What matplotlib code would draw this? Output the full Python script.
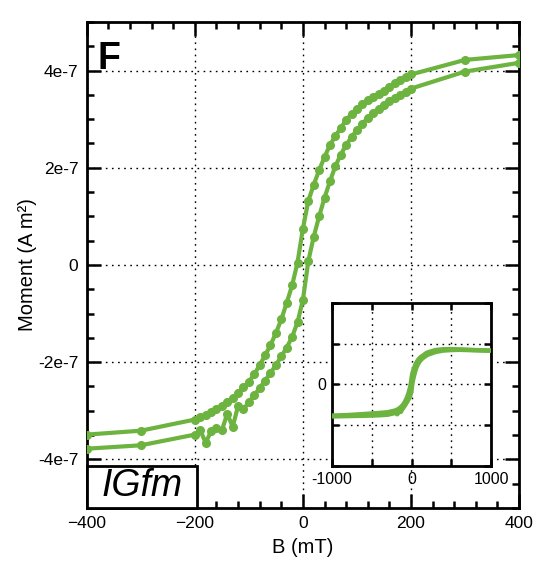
import matplotlib
matplotlib.use("Agg")
import matplotlib.pyplot as plt
from matplotlib.ticker import MultipleLocator, FixedLocator
from matplotlib.patches import Rectangle

plt.rcParams['font.family'] = ['Liberation Sans', 'DejaVu Sans']

# ---- data (moment in units of 1e-7 A m^2, field in mT) ----
desc_B = [1000, 800, 600, 500, 400, 300, 200, 190, 180, 170, 160, 150, 140, 130, 120, 110,
          100, 90, 80, 70, 60, 50, 40, 30, 20, 10, 0, -10, -20, -30, -40, -50, -60,
          -70, -80, -90, -100, -110, -120, -130, -140, -150, -160, -170, -180, -190,
          -200, -300, -400, -500, -600, -800, -1000]
desc_M = [4.15, 4.22, 4.30, 4.34, 4.32, 4.22, 3.92, 3.87, 3.81, 3.74, 3.67, 3.59, 3.52, 3.46,
          3.40, 3.31, 3.22, 3.11, 2.98, 2.82, 2.65, 2.47, 2.22, 1.95, 1.65, 1.32, 0.75, 0.05,
          -0.42, -0.78, -1.12, -1.40, -1.65, -1.86, -2.06, -2.25, -2.40, -2.52, -2.63, -2.73,
          -2.82, -2.90, -2.97, -3.03, -3.08, -3.13, -3.18, -3.41, -3.49, -3.56, -3.63,
          -3.75, -3.82]

asc_B = [-1000, -800, -600, -500, -400, -300, -200, -190, -180, -170, -160, -150, -140, -130,
         -120, -110, -100, -90, -80, -70, -60, -50, -40, -30, -20, -10, 0, 10, 20, 30, 40,
         50, 60, 70, 80, 90, 100, 110, 120, 130, 140, 150, 160, 170, 180, 190, 200, 300,
         400, 500, 600, 800, 1000]
asc_M = [-3.92, -3.88, -3.84, -3.81, -3.78, -3.71, -3.49, -3.40, -3.66, -3.42, -3.36, -3.40,
         -3.06, -3.33, -2.90, -2.97, -2.82, -2.68, -2.53, -2.38, -2.22, -2.06, -1.88, -1.70,
         -1.48, -1.18, -0.72, 0.08, 0.58, 1.00, 1.38, 1.72, 2.03, 2.27, 2.47, 2.63, 2.78,
         2.91, 3.02, 3.12, 3.21, 3.29, 3.37, 3.43, 3.50, 3.56, 3.63, 3.98, 4.16, 4.22, 4.25,
         4.20, 4.15]

scale = 1e-7
main_xticks = [-400, -200, 0, 200, 400]
main_yticks = [-4e-7, -2e-7, 0, 2e-7, 4e-7]
main_yticklabels = ["-4e-7", "-2e-7", "0", "2e-7", "4e-7"]
inset_xticks = [-1000, -500, 0, 500, 1000]
inset_xticklabels = ["-1000", "", "0", "", "1000"]
inset_yticks = [-1e-6, -5e-7, 0, 5e-7, 1e-6]
inset_yticklabels = ["", "", "0", "", ""]

panel_letter = "F"
sample_label = "IGfm"
xlabel = "B (mT)"
ylabel = "Moment (A m²)"

green = "#6cb33f"

fig = plt.figure(figsize=(5.53, 5.70), dpi=100)
ax = fig.add_axes([0.157, 0.1088, 0.7815, 0.8526])

dM = [m * scale for m in desc_M]
aM = [m * scale for m in asc_M]

for B, M in ((desc_B, dM), (asc_B, aM)):
    ax.plot(B, M, color=green, lw=3.0, marker='o', ms=5.5, mec=green, mfc=green,
            solid_joinstyle='round', zorder=3)

ax.set_xlim(-400, 400)
ax.set_ylim(-5e-7, 5e-7)
ax.set_xticks(main_xticks)
ax.set_yticks(main_yticks)
ax.set_yticklabels(main_yticklabels)
ax.xaxis.set_minor_locator(MultipleLocator(40))
ax.yaxis.set_minor_locator(MultipleLocator(0.5e-7))
ax.tick_params(which='both', direction='in', top=True, right=True, width=1.8,
               labelsize=12.5, pad=6)
ax.tick_params(which='major', length=10)
ax.tick_params(which='minor', length=5)
for s in ax.spines.values():
    s.set_linewidth(2.0)
ax.grid(True, which='major', color='black', linestyle=(0, (1.2, 3.2)), lw=1.0, zorder=1)
ax.set_axisbelow(True)
ax.set_xlabel(xlabel, fontsize=14.5, labelpad=5)
ax.set_ylabel(ylabel, fontsize=14.5, labelpad=0.5)

ax.text(0.025, 0.96, panel_letter, transform=ax.transAxes, fontsize=27,
        fontweight='bold', va='top', ha='left', zorder=6)

# sample label box
ax.text(0.035, 0.045, sample_label, transform=ax.transAxes, fontsize=27,
        fontstyle='italic', va='center', ha='left', zorder=7)
ax.add_patch(Rectangle((0.0, 0.0), 0.256, 0.087, transform=ax.transAxes,
                       facecolor='white', edgecolor='black', lw=2.0, zorder=6,
                       clip_on=False))

# inset
ins = fig.add_axes([0.6004, 0.1825, 0.2875, 0.286])
ins.set_zorder(10)
ins.patch.set_facecolor('white')
for B, M in ((desc_B, dM), (asc_B, aM)):
    ins.plot(B, M, color=green, lw=3.2, solid_joinstyle='round', zorder=3)
ins.set_xlim(-1000, 1000)
ins.set_ylim(-1e-6, 1e-6)
ins.xaxis.set_major_locator(FixedLocator(inset_xticks))
ins.set_xticklabels(inset_xticklabels)
ins.yaxis.set_major_locator(FixedLocator(inset_yticks))
ins.set_yticklabels(inset_yticklabels)
ins.tick_params(which='both', direction='in', top=True, right=True, width=1.8,
                length=5, labelsize=11.5, pad=4)
for s in ins.spines.values():
    s.set_linewidth(2.0)
ins.grid(True, which='major', color='black', linestyle=(0, (1.2, 3.2)), lw=1.0, zorder=1)
ins.set_axisbelow(True)

fig.savefig("out.png", dpi=100)
